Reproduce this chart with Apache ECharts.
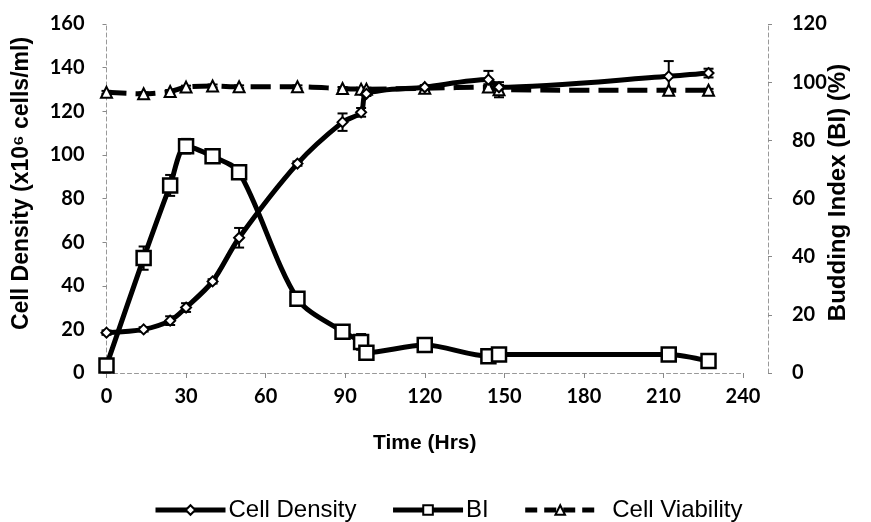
<!DOCTYPE html>
<html>
<head>
<meta charset="utf-8">
<script src="https://cdn.jsdelivr.net/npm/echarts@6/dist/echarts.min.js"></script>
<style>
html,body{margin:0;padding:0;background:#fff;}
#chart{width:871px;height:522px;}
</style>
</head>
<body>
<div id="chart"></div>
<script>
// Data
const time = [0, 14, 24, 30, 40, 50, 72, 89, 96, 98, 120, 144, 148, 212, 227];
const cellDensity = [18.5, 20, 24, 30, 42, 62, 96, 115, 119.5, 128, 131, 134.5, 131, 136, 137.5];
const cellDensityErr = [1, 1, 2, 2, 1, 4.5, 1, 4, 2, 1, 1, 4, 1, 7, 2];
const buddingIndex = [2.6, 39.5, 64.5, 78, 74.5, 69, 25.5, 14.2, 10.7, 7, 9.6, 5.8, 6.4, 6.4, 4.1];
const buddingIndexErr = [0.5, 4, 3.6, 2.5, 1, 1, 0.5, 1, 2.7, 0.5, 0.5, 0.5, 0.5, 0.5, 0.5];
const viability = [96.5, 96, 96.8, 98.3, 98.7, 98.4, 98.4, 97.8, 97.6, 97.6, 97.9, 98.3, 97.4, 97.2, 97.2];
const viabilityErr = [0.5, 0.5, 0.5, 0.5, 0.5, 0.5, 0.5, 0.5, 0.5, 0.5, 0.5, 1, 2.6, 0.5, 0.5];
const xTicks = [0, 30, 60, 90, 120, 150, 180, 210, 240];

const FONT = 'Lato';
const pairs = (ys) => time.map((t, i) => [t, ys[i]]);
const errData = (ys, es) => time.map((t, i) => [t, ys[i] - es[i], ys[i] + es[i]]);

function errRender(params, api) {
  const x = api.value(0), lo = api.value(1), hi = api.value(2);
  const p1 = api.coord([x, lo]);
  const p2 = api.coord([x, hi]);
  const w = 5;
  const st = {stroke: '#000', lineWidth: 2};
  return {
    type: 'group',
    children: [
      {type: 'line', shape: {x1: p1[0], y1: p1[1], x2: p2[0], y2: p2[1]}, style: st},
      {type: 'line', shape: {x1: p1[0] - w, y1: p1[1], x2: p1[0] + w, y2: p1[1]}, style: st},
      {type: 'line', shape: {x1: p2[0] - w, y1: p2[1], x2: p2[0] + w, y2: p2[1]}, style: st}
    ]
  };
}

const chart = echarts.init(document.getElementById('chart'), null, {renderer: 'canvas'});
const axisLabelStyle = {color: '#000', fontFamily: FONT, fontSize: 20, fontWeight: 'bold'};
const axisLineGray = {show: true, lineStyle: {color: '#999', width: 1, type: [4, 3]}};
const markerStyle = {color: '#fff', borderColor: '#000', borderWidth: 2};

chart.setOption({
  animation: false,
  backgroundColor: '#fff',
  grid: {left: 106.5, right: 128, top: 24, bottom: 149},
  legend: {
    top: 493,
    left: 148,
    itemWidth: 70,
    itemHeight: 12,
    itemGap: 34,
    textStyle: {color: '#000', fontFamily: 'Liberation Sans', fontSize: 24, padding: [0, 0, 0, -2]},
    data: [
      {name: 'Cell Density', lineStyle: {width: 5, color: '#000', type: 'solid'}, itemStyle: markerStyle},
      {name: 'BI', lineStyle: {width: 5, color: '#000', type: 'solid'}, itemStyle: markerStyle},
      {name: 'Cell Viability', lineStyle: {width: 5, color: '#000', type: [12, 7]}, itemStyle: markerStyle,
       textStyle: {padding: [0, 0, 0, 12]}}
    ]
  },
  xAxis: {
    type: 'value', min: 0, max: 240, interval: 30,
    name: 'Time (Hrs)', nameLocation: 'middle', nameGap: 60, nameMoveOverlap: false,
    nameTextStyle: {color: '#000', fontFamily: 'Liberation Sans', fontSize: 21, fontWeight: 'bold'},
    axisLine: axisLineGray,
    axisTick: {show: true, length: 5, lineStyle: {color: '#888'}},
    axisLabel: Object.assign({margin: 14, formatter: (v) => xTicks.includes(v) ? String(v) : ''}, axisLabelStyle),
    splitLine: {show: false}
  },
  yAxis: [
    {
      type: 'value', min: 0, max: 160, interval: 20, position: 'left',
      name: 'Cell Density (x10\u2076 cells/ml)', nameLocation: 'middle', nameGap: 73, nameMoveOverlap: false,
      nameTextStyle: {color: '#000', fontFamily: 'Liberation Sans', fontSize: 23, fontWeight: 'bold', padding: [0, 0, 0, 30]},
      axisLine: axisLineGray,
      axisTick: {show: true, length: 4, lineStyle: {color: '#888'}},
      axisLabel: Object.assign({margin: 22}, axisLabelStyle),
      splitLine: {show: false}
    },
    {
      type: 'value', min: 0, max: 120, interval: 20, position: 'right', offset: 25,
      name: 'Budding Index (BI) (%)', nameLocation: 'middle', nameGap: 58, nameMoveOverlap: false,
      nameTextStyle: {color: '#000', fontFamily: 'Liberation Sans', fontSize: 24, fontWeight: 'bold', padding: [0, 0, 0, 12]},
      axisLine: axisLineGray,
      axisTick: {show: true, length: 4, lineStyle: {color: '#888'}},
      axisLabel: Object.assign({margin: 24}, axisLabelStyle),
      splitLine: {show: false}
    }
  ],
  series: [
    {
      name: 'Cell Viability', type: 'line', yAxisIndex: 1, data: pairs(viability),
      smooth: 0.3, symbol: 'triangle', symbolSize: 11, z: 3,
      lineStyle: {color: '#000', width: 5, type: [20, 9]},
      itemStyle: markerStyle
    },
    {
      name: 'Cell Density', type: 'line', yAxisIndex: 0, data: pairs(cellDensity),
      smooth: 0.3, symbol: 'diamond', symbolSize: 10, z: 4,
      lineStyle: {color: '#000', width: 5},
      itemStyle: markerStyle
    },
    {
      name: 'BI', type: 'line', yAxisIndex: 1, data: pairs(buddingIndex),
      smooth: 0.3, symbol: 'rect', symbolSize: 14, z: 5,
      lineStyle: {color: '#000', width: 5},
      itemStyle: {color: '#fff', borderColor: '#000', borderWidth: 2.5}
    },
    {type: 'custom', yAxisIndex: 0, data: errData(cellDensity, cellDensityErr), renderItem: errRender, z: 2, silent: true},
    {type: 'custom', yAxisIndex: 1, data: errData(buddingIndex, buddingIndexErr), renderItem: errRender, z: 2, silent: true},
    {type: 'custom', yAxisIndex: 1, data: errData(viability, viabilityErr), renderItem: errRender, z: 2, silent: true}
  ]
});
</script>
</body>
</html>
